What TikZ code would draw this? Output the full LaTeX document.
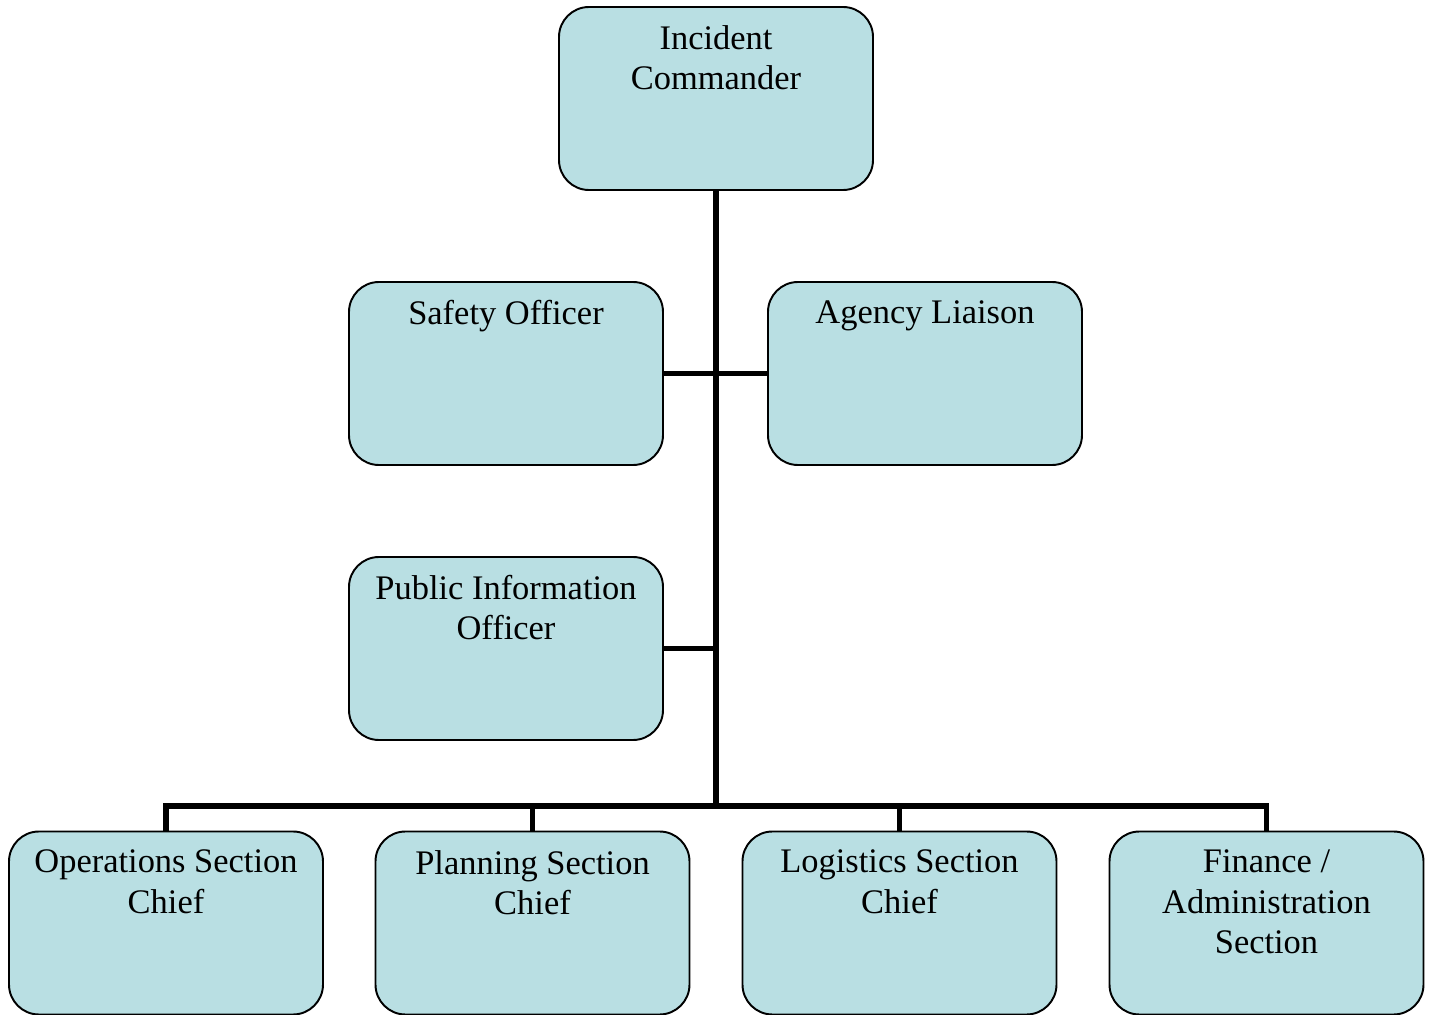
\documentclass[tikz,border=0pt]{standalone}
\usepackage{fontspec}
\setmainfont{Liberation Serif}
\usetikzlibrary{positioning,calc}

\definecolor{boxfill}{HTML}{B9DFE3}

\tikzset{
  role/.style={draw=black,line width=1.1pt,fill=boxfill,rounded corners=0.6cm,
    minimum width=6.28cm,minimum height=3.66cm,inner sep=0pt},
  title/.style={anchor=north,align=center,inner sep=0pt,yshift=-0.385cm,
    font=\fontsize{19.6pt}{22.8pt}\selectfont},
  link/.style={line width=3.4pt}
}

\begin{document}
\begin{tikzpicture}
  \useasboundingbox (0,0) rectangle (28.62,-20.3);

  % boxes
  \node[role] (ic) at (14.32,-1.97) {};
  \node[role] (so) at (10.12,-7.47) {};
  \node[role] (al) at (18.50,-7.47) {};
  \node[role] (pio) at (10.12,-12.97) {};
  \node[role] (ops) at (3.32,-18.46) {};
  \node[role] (plan) at (10.65,-18.46) {};
  \node[role] (log) at (17.99,-18.46) {};
  \node[role] (fin) at (25.33,-18.46) {};

  % titles
  \node[title] (ict) at (ic.north) {Incident\\Commander};
  \node[title] (sot) at (so.north) {Safety Officer};
  \node[title] (alt) at (al.north) {Agency Liaison};
  \node[title] (piot) at (pio.north) {Public Information\\Officer};
  \node[title] (opst) at (ops.north) {Operations Section\\Chief};
  \node[title] (plant) at (plan.north) {Planning Section\\Chief};
  \node[title] (logt) at (log.north) {Logistics Section\\Chief};
  \node[title] (fint) at (fin.north) {Finance /\\Administration\\Section};

  % connectors
  \coordinate (bus) at (14.32,-16.12);
  \draw[link] (ic.south) -- (bus);
  \draw[link] (so.east) -- (al.west);
  \draw[link] (pio.east) -- (pio.east -| ic.south);
  \draw[link] (ops.north) -- (ops.north |- bus) -| (fin.north);
  \draw[link] (plan.north) -- (plan.north |- bus);
  \draw[link] (log.north) -- (log.north |- bus);
\end{tikzpicture}
\end{document}
